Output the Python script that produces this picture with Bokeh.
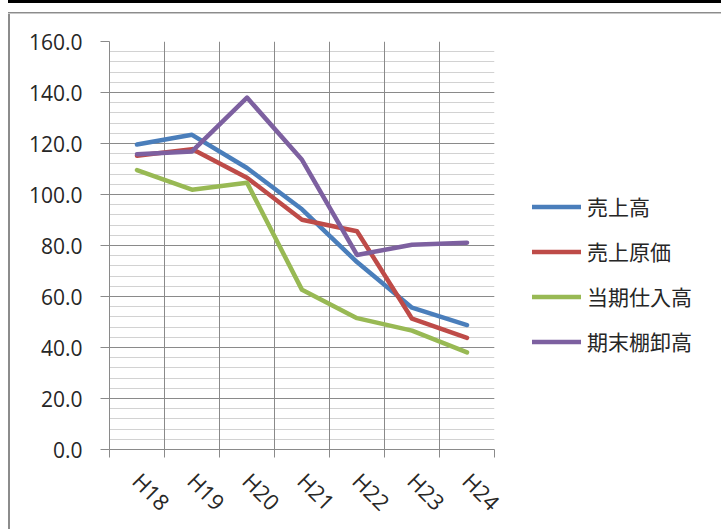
import math
from bokeh.plotting import figure
from bokeh.models import (Range1d, LinearAxis, FixedTicker, Grid, Legend,
                          LegendItem, SingleIntervalTicker, PrintfTickFormatter)
from bokeh.embed import file_html
from bokeh.resources import INLINE

categories = ["H18", "H19", "H20", "H21", "H22", "H23", "H24"]
sales = [119.6, 123.4, 110.4, 94.2, 73.5, 55.6, 48.8]
cost_of_sales = [115.2, 117.8, 106.6, 90.1, 85.6, 51.3, 43.8]
purchases = [109.6, 101.9, 104.6, 62.6, 51.5, 46.6, 38.1]
ending_inventory = [115.8, 116.9, 138.0, 113.6, 76.3, 80.3, 81.1]
series_names = ["売上高", "売上原価", "当期仕入高", "期末棚卸高"]
series_values = [sales, cost_of_sales, purchases, ending_inventory]
colors = ["#4A7EBB", "#BE4B48", "#98B954", "#7D60A0"]
y_max = 160
y_step = 20

n = len(categories)
# category slots: each category occupies one unit, centred at index + 0.5
centers = [i + 0.5 for i in range(n)]
bounds = list(range(n + 1))

p = figure(frame_width=385, frame_height=408, output_backend="svg", toolbar_location=None,
           x_range=Range1d(0, n), y_range=Range1d(0, y_max),
           x_axis_type=None, y_axis_type=None,
           min_border_left=109, min_border_right=227, min_border_top=41, min_border_bottom=80)
p.outline_line_color = None
p.background_fill_color = "white"
p.border_fill_color = None
# sheet decorations: black band at the top, grey chart border (top and left)
p.styles = {
    "background-color": "#ffffff",
    "background-image": (
        "linear-gradient(to bottom, #000 0px, #000 3.5px, transparent 3.5px, transparent 12px, "
        "#8c8c8c 12px, #8c8c8c 13.5px, #c8c8c8 13.5px, #c8c8c8 14.5px, transparent 14.5px), "
        "linear-gradient(#8c8c8c, #8c8c8c)"),
    "background-position": "8px 0px, 8px 12px",
    "background-size": "calc(100% - 8px) 15px, 2px calc(100% - 12px)",
    "background-repeat": "no-repeat, no-repeat",
}

grid_dark = "#8a8a8a"
grid_light = "#d2d2d2"
text_color = "#262626"

# y axis
yticker = SingleIntervalTicker(interval=y_step, num_minor_ticks=5)
yaxis = LinearAxis(ticker=yticker, formatter=PrintfTickFormatter(format="%.1f"),
                   major_tick_out=9, major_tick_in=0, minor_tick_out=0, minor_tick_in=0,
                   axis_line_color=grid_dark, major_tick_line_color=grid_dark,
                   major_label_text_font="Open Sans", major_label_text_font_size="21px",
                   major_label_text_color=text_color, major_label_standoff=18)
p.add_layout(yaxis, "left")
p.add_layout(Grid(dimension=1, ticker=yticker, grid_line_color=grid_dark,
                  minor_grid_line_color=grid_light), "center")

# x axis (labels at centres, ticks at boundaries)
xaxis = LinearAxis(ticker=FixedTicker(ticks=centers, minor_ticks=bounds),
                   major_label_overrides={c: cat for c, cat in zip(centers, categories)},
                   major_tick_out=0, major_tick_in=0, minor_tick_out=8, minor_tick_in=0,
                   axis_line_color=grid_dark, minor_tick_line_color=grid_dark,
                   major_label_text_font="Open Sans", major_label_text_font_size="22px",
                   major_label_text_color=text_color, major_label_standoff=19,
                   major_label_orientation=-math.pi / 4)
p.add_layout(xaxis, "below")
p.add_layout(Grid(dimension=0, ticker=FixedTicker(ticks=bounds),
                  grid_line_color=grid_dark), "center")

items = []
for name, vals, col in zip(series_names, series_values, colors):
    r = p.line(x=centers, y=vals, line_color=col, line_width=4.5,
               line_cap="round", line_join="round")
    items.append(LegendItem(label=name, renderers=[r]))

legend = Legend(items=items, location=(38, 93),
                label_text_font="Noto Sans CJK JP", label_text_font_size="21px",
                label_text_color=text_color,
                glyph_width=49, glyph_height=29, label_height=29, spacing=15,
                padding=0, margin=0, border_line_color=None, background_fill_alpha=0,
                label_standoff=6)
p.add_layout(legend, "right")

open("out.html", "w").write(file_html(p, INLINE))
